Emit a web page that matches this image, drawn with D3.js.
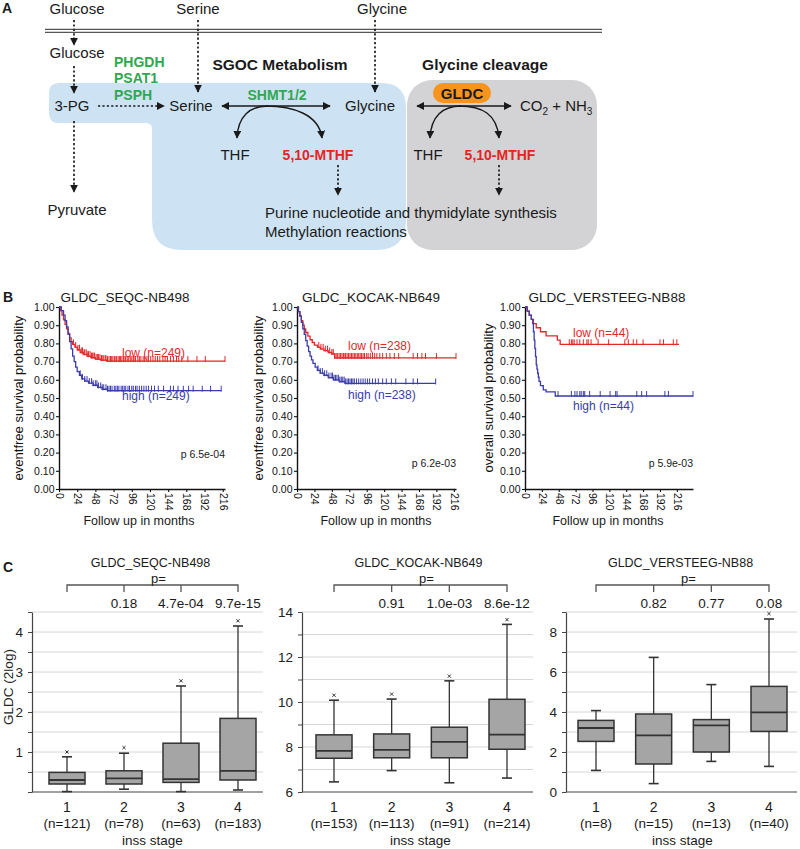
<!DOCTYPE html>
<html><head><meta charset="utf-8">
<script src="https://cdn.jsdelivr.net/npm/d3@7"></script>
<style>body{margin:0;background:#fff}svg{display:block;font-family:"Liberation Sans",Arial,Helvetica,sans-serif}</style>
</head><body><svg id="c" width="800" height="849"></svg>
<script>
// ---------------- DATA ----------------
// Panel B: Kaplan-Meier curves (months, survival probability)
const kmTitles = ["GLDC_SEQC-NB498", "GLDC_KOCAK-NB649", "GLDC_VERSTEEG-NB88"];
const kmYLabels = ["eventfree survival probability", "eventfree survival probability", "overall survival probability"];
const kmPValues = ["p 6.5e-04", "p 6.2e-03", "p 5.9e-03"];
const kmLowLabels = ["low (n=249)", "low (n=238)", "low (n=44)"];
const kmHighLabels = ["high (n=249)", "high (n=238)", "high (n=44)"];
const kmYTicks = [0, 0.1, 0.2, 0.3, 0.4, 0.5, 0.6, 0.7, 0.8, 0.9, 1.0];
const kmXTicks = [0, 24, 48, 72, 96, 120, 144, 168, 192, 216];
const kmXMax = [219, 219, 239];

const seqcLowT = [0, 2, 4, 6, 8, 10, 12, 14, 16, 18, 21, 24, 28, 32, 37, 42, 48, 55, 63, 219];
const seqcLowS = [1.00, 0.98, 0.955, 0.93, 0.905, 0.88, 0.855, 0.83, 0.81, 0.795, 0.78, 0.765, 0.75, 0.74, 0.73, 0.722, 0.714, 0.708, 0.703, 0.703];
const seqcHighT = [0, 3, 6, 8, 10, 12, 14, 16, 18, 20, 22, 24, 27, 30, 34, 39, 45, 51, 57, 64, 214];
const seqcHighS = [1.00, 0.98, 0.955, 0.925, 0.89, 0.85, 0.81, 0.77, 0.73, 0.70, 0.67, 0.645, 0.625, 0.605, 0.593, 0.582, 0.57, 0.558, 0.548, 0.54, 0.54];
const seqcLowCens = [19, 22, 25, 27, 30, 31, 33, 34, 36, 38, 39, 41, 43, 44, 46, 47, 49, 51, 52, 54, 56, 57, 59, 61, 62, 64, 66, 68, 69, 71, 73, 74, 76, 78, 80, 81, 83, 85, 87, 88, 90, 92, 94, 96, 98, 99, 101, 104, 106, 108, 111, 113, 116, 118, 121, 124, 127, 130, 133, 137, 140, 143, 147, 151, 155, 158, 162, 170, 182, 193, 219];
const seqcHighCens = [28, 31, 34, 37, 40, 43, 45, 48, 50, 52, 55, 57, 59, 62, 64, 66, 68, 70, 73, 75, 77, 79, 82, 84, 86, 88, 91, 93, 96, 98, 101, 103, 106, 109, 112, 115, 118, 122, 126, 131, 138, 147, 151, 157, 164, 171, 177, 189, 200, 214];

const kocakLowT = [0, 2, 4, 6, 8, 10, 12, 15, 18, 21, 24, 28, 32, 37, 43, 48, 52, 219];
const kocakLowS = [1.00, 0.975, 0.95, 0.925, 0.90, 0.88, 0.86, 0.84, 0.82, 0.805, 0.79, 0.78, 0.77, 0.76, 0.75, 0.742, 0.72, 0.72];
const kocakHighT = [0, 2, 4, 6, 8, 10, 12, 14, 16, 18, 20, 22, 25, 28, 32, 37, 43, 50, 58, 66, 191];
const kocakHighS = [1.00, 0.975, 0.95, 0.915, 0.88, 0.85, 0.815, 0.785, 0.755, 0.73, 0.71, 0.69, 0.67, 0.652, 0.637, 0.625, 0.612, 0.60, 0.59, 0.58, 0.58];
const kocakLowCens = [30, 33, 36, 39, 42, 45, 48, 50, 52, 54, 56, 58, 60, 62, 64, 66, 67, 69, 71, 73, 75, 77, 79, 81, 83, 85, 87, 89, 91, 93, 96, 98, 101, 104, 107, 110, 114, 118, 123, 128, 134, 140, 160, 166, 172, 177, 192, 219];
const kocakHighCens = [29, 32, 35, 38, 41, 44, 47, 49, 51, 53, 55, 57, 59, 61, 63, 65, 67, 69, 71, 73, 75, 77, 79, 82, 85, 88, 91, 94, 97, 100, 104, 108, 112, 118, 123, 130, 136, 150, 160, 166, 191];

const versteegLowT = [0, 3, 6, 9, 12, 16, 22, 30, 46, 50, 219];
const versteegLowS = [1.00, 0.977, 0.955, 0.932, 0.909, 0.886, 0.864, 0.841, 0.818, 0.795, 0.795];
const versteegHighT = [0, 3, 6, 9, 11, 12, 13, 14, 15, 16, 17, 18, 19, 20, 22, 26, 30, 43, 239];
const versteegHighS = [1.00, 0.977, 0.955, 0.932, 0.909, 0.864, 0.818, 0.773, 0.727, 0.682, 0.659, 0.636, 0.614, 0.591, 0.568, 0.545, 0.534, 0.511, 0.511];
const versteegLowCens = [63, 66, 68, 70, 74, 78, 83, 88, 90, 94, 104, 119, 142, 147, 154, 159, 168, 192, 197, 211, 216];
const versteegHighCens = [47, 66, 71, 74, 78, 80, 83, 85, 92, 107, 121, 129, 131, 159, 166, 173, 199, 204, 239];

// Panel C: box plots of GLDC expression per INSS stage
const bpTitles = ["GLDC_SEQC-NB498", "GLDC_KOCAK-NB649", "GLDC_VERSTEEG-NB88"];
const bpYLabel = "GLDC (2log)";
const bpStages = ["1", "2", "3", "4"];
const seqcN = ["(n=121)", "(n=78)", "(n=63)", "(n=183)"];
const kocakN = ["(n=153)", "(n=113)", "(n=91)", "(n=214)"];
const versteegN = ["(n=8)", "(n=15)", "(n=13)", "(n=40)"];
const seqcP = ["0.18", "4.7e-04", "9.7e-15"];
const kocakP = ["0.91", "1.0e-03", "8.6e-12"];
const versteegP = ["0.82", "0.77", "0.08"];

const seqcLow = [0.01, 0.07, 0.01, 0.05];
const seqcQ1 = [0.20, 0.20, 0.24, 0.30];
const seqcMed = [0.30, 0.34, 0.32, 0.53];
const seqcQ3 = [0.49, 0.53, 1.22, 1.84];
const seqcHigh = [0.88, 0.97, 2.65, 4.15];
const seqcOut = [1.00, 1.11, 2.78, 4.28];

const kocakLow = [6.45, 6.95, 6.41, 6.62];
const kocakQ1 = [7.50, 7.52, 7.52, 7.90];
const kocakMed = [7.83, 7.87, 8.23, 8.55];
const kocakQ3 = [8.54, 8.58, 8.88, 10.12];
const kocakHigh = [10.08, 10.13, 10.94, 13.45];
const kocakOut = [10.30, 10.35, 11.15, 13.66];

const versteegLow = [1.08, 0.42, 1.53, 1.28];
const versteegQ1 = [2.53, 1.40, 2.00, 3.03];
const versteegMed = [3.20, 2.83, 3.33, 3.98];
const versteegQ3 = [3.58, 3.90, 3.62, 5.28];
const versteegHigh = [4.07, 6.73, 5.37, 8.65];
const versteegOut = [null, null, null, 8.92];

const seqcGrid = [0, 0.5, 1, 1.5, 2, 2.5, 3, 3.5, 4, 4.5];
const seqcLabels = [1, 2, 3, 4];
const kocakGrid = [6, 7, 8, 9, 10, 11, 12, 13, 14];
const kocakLabels = [6, 8, 10, 12, 14];
const versteegGrid = [0, 1, 2, 3, 4, 5, 6, 7, 8, 9];
const versteegLabels = [0, 2, 4, 6, 8];

// ---------------- DRAWING ----------------
const svg = d3.select("#c");
const INK = "#1a1a1a";
const RED = "#e8231f";
const GREEN = "#2fa84f";
const KM_RED = "#e0282a";
const KM_BLUE = "#3a3cab";

const defs = svg.append("defs");
defs.append("marker").attr("id", "ah").attr("viewBox", "0 0 10 10")
  .attr("refX", 9).attr("refY", 5).attr("markerWidth", 8).attr("markerHeight", 8)
  .attr("markerUnits", "userSpaceOnUse").attr("orient", "auto-start-reverse")
  .append("path").attr("d", "M0,0L10,5L0,10z").attr("fill", INK);

function txt(g, x, y, s, o = {}) {
  return g.append("text").attr("x", x).attr("y", y).text(s)
    .attr("font-size", o.size || 15).attr("font-weight", o.bold ? "bold" : "normal")
    .attr("fill", o.fill || INK).attr("text-anchor", o.anchor || "middle");
}
function arrow(g, x1, y1, x2, y2, dotted, both) {
  const l = g.append("line").attr("x1", x1).attr("y1", y1).attr("x2", x2).attr("y2", y2)
    .attr("stroke", INK).attr("stroke-width", dotted ? 1.7 : 1.4).attr("marker-end", "url(#ah)");
  if (dotted) l.attr("stroke-dasharray", "2.2,2.2");
  if (both) l.attr("marker-start", "url(#ah)");
}

// ===== Panel A =====
const A = svg.append("g");
txt(A, 2, 13, "A", {bold: true, size: 14, anchor: "start"});
A.append("line").attr("x1", 45).attr("x2", 602).attr("y1", 29.3).attr("y2", 29.3).attr("stroke", "#555").attr("stroke-width", 1.3);
A.append("line").attr("x1", 45).attr("x2", 602).attr("y1", 32.3).attr("y2", 32.3).attr("stroke", "#555").attr("stroke-width", 1.3);
A.append("path").attr("fill", "#cde3f3").attr("d",
  "M49,93 Q49,83 59,83 L381,83 Q406,83 406,108 L406,220 Q406,250 376,250 L182,250 Q152,250 152,220 L152,129 Q152,123 146,123 L59,123 Q49,123 49,113 Z");
A.append("rect").attr("x", 407).attr("y", 80).attr("width", 190).attr("height", 170).attr("rx", 25).attr("fill", "#d3d3d5");

txt(A, 77, 13.5, "Glucose");
txt(A, 198, 13.5, "Serine");
txt(A, 382, 13.5, "Glycine");
arrow(A, 74, 20, 74, 45, true);
arrow(A, 198, 20, 198, 92, true);
arrow(A, 375, 20, 375, 92, true);
txt(A, 77, 58, "Glucose");
arrow(A, 74, 66, 74, 93, true);
txt(A, 72, 111, "3-PG");
arrow(A, 98, 106, 164, 106, true);
arrow(A, 74, 121, 74, 192, true);
txt(A, 77, 215, "Pyruvate");
["PHGDH", "PSAT1", "PSPH"].forEach((s, i) => txt(A, 114, 67 + i * 16.3, s, {bold: true, size: 14, fill: GREEN, anchor: "start"}));
txt(A, 280, 70, "SGOC Metabolism", {bold: true, size: 15.5});
txt(A, 485, 70, "Glycine cleavage", {bold: true, size: 15.5});
txt(A, 191, 111, "Serine");
txt(A, 370, 111, "Glycine");
txt(A, 277, 100, "SHMT1/2", {bold: true, size: 14, fill: GREEN});
arrow(A, 222, 106, 330, 106, false, true);
A.append("path").attr("d", "M268,106 C250,106 238,116 237,138").attr("fill", "none").attr("stroke", INK).attr("stroke-width", 1.4).attr("marker-end", "url(#ah)");
A.append("path").attr("d", "M266,106 C292,106 319,114 322,138").attr("fill", "none").attr("stroke", INK).attr("stroke-width", 1.4).attr("marker-end", "url(#ah)");
txt(A, 235, 160, "THF");
txt(A, 318, 160, "5,10-MTHF", {bold: true, size: 14, fill: RED});
arrow(A, 338, 165, 338, 195, true);
A.append("rect").attr("x", 433).attr("y", 83).attr("width", 58).attr("height", 20).attr("rx", 10).attr("fill", "#f7941d");
txt(A, 462, 99, "GLDC", {bold: true, size: 15});
arrow(A, 417, 106, 511, 106, false, true);
const co = A.append("text").attr("x", 520).attr("y", 111).attr("font-size", 15).attr("fill", INK);
co.append("tspan").text("CO");
co.append("tspan").text("2").attr("font-size", 10).attr("dy", 4);
co.append("tspan").text(" + NH").attr("dy", -4);
co.append("tspan").text("3").attr("font-size", 10).attr("dy", 4);
A.append("path").attr("d", "M461,106 C443,106 431,116 430,138").attr("fill", "none").attr("stroke", INK).attr("stroke-width", 1.4).attr("marker-end", "url(#ah)");
A.append("path").attr("d", "M459,106 C482,106 497,114 499,138").attr("fill", "none").attr("stroke", INK).attr("stroke-width", 1.4).attr("marker-end", "url(#ah)");
txt(A, 428, 160, "THF");
txt(A, 500, 160, "5,10-MTHF", {bold: true, size: 14, fill: RED});
arrow(A, 499, 165, 499, 195, true);
txt(A, 265, 218, "Purine nucleotide and thymidylate synthesis", {anchor: "start"});
txt(A, 265, 237, "Methylation reactions", {anchor: "start"});

// ===== Panel B =====
const B = svg.append("g");
txt(B, 3, 302, "B", {bold: true, size: 14, anchor: "start"});
const kmCfg = [
  {x0: 59, x1: 225, titleX: 125, ylx: 23, lowT: seqcLowT, lowS: seqcLowS, highT: seqcHighT, highS: seqcHighS, lowC: seqcLowCens, highC: seqcHighCens, lowLab: [122, 357], highLab: [122, 400], p: [225, 458], xlab: 139},
  {x0: 297, x1: 456, titleX: 371, ylx: 263, lowT: kocakLowT, lowS: kocakLowS, highT: kocakHighT, highS: kocakHighS, lowC: kocakLowCens, highC: kocakHighCens, lowLab: [348, 350], highLab: [348, 399], p: [456, 467], xlab: 376},
  {x0: 525, x1: 693, titleX: 607, ylx: 493, lowT: versteegLowT, lowS: versteegLowS, highT: versteegHighT, highS: versteegHighS, lowC: versteegLowCens, highC: versteegHighCens, lowLab: [573, 337], highLab: [573, 410], p: [693, 467], xlab: 608}
];
const kmY = d3.scaleLinear().domain([0, 1]).range([489, 307]);
kmCfg.forEach((c, i) => {
  const g = B.append("g");
  const x = d3.scaleLinear().domain([0, kmXMax[i]]).range([c.x0, c.x1]);
  txt(g, c.titleX, 302, kmTitles[i], {size: 13.5});
  const ya = g.append("g").attr("transform", `translate(${c.x0},0)`)
    .call(d3.axisLeft(kmY).tickValues(kmYTicks).tickFormat(d3.format(".2f")).tickSize(3).tickSizeOuter(0).tickPadding(1.5));
  const xa = g.append("g").attr("transform", `translate(0,489)`)
    .call(d3.axisBottom(x).tickValues(kmXTicks).tickSize(3).tickSizeOuter(0));
  [ya, xa].forEach(a => {
    a.select(".domain").attr("stroke", "#111").attr("stroke-width", 1.4);
    a.selectAll(".tick line").attr("stroke", "#111").attr("stroke-width", 1.1);
    a.selectAll("text").attr("font-size", 10.5).attr("fill", "#111").attr("font-family", "'Liberation Sans',Arial,sans-serif");
  });
  xa.selectAll("text").attr("y", 0).attr("x", 4).attr("dy", "0.35em")
    .attr("transform", "rotate(90)").style("text-anchor", "start");
  g.append("text").attr("transform", `translate(${c.ylx},398) rotate(-90)`).attr("text-anchor", "middle")
    .attr("font-size", 13).attr("fill", "#111").text(kmYLabels[i]);
  txt(g, c.xlab, 525, "Follow up in months", {size: 12.5});
  const series = [
    {T: c.lowT, S: c.lowS, C: c.lowC, col: KM_RED},
    {T: c.highT, S: c.highS, C: c.highC, col: KM_BLUE}
  ];
  series.forEach(s => {
    const pts = s.T.map((t, k) => [t, s.S[k]]);
    g.append("path").datum(pts).attr("fill", "none").attr("stroke", s.col).attr("stroke-width", 1.3)
      .attr("d", d3.line().x(d => x(d[0])).y(d => kmY(d[1])).curve(d3.curveStepAfter));
    const survAt = t => { let v = s.S[0]; s.T.forEach((tt, k) => { if (tt <= t) v = s.S[k]; }); return v; };
    g.selectAll(null).data(s.C).join("line")
      .attr("x1", d => x(d)).attr("x2", d => x(d))
      .attr("y1", d => kmY(survAt(d)) - 5).attr("y2", d => kmY(survAt(d)) + 1)
      .attr("stroke", s.col).attr("stroke-width", 1);
  });
  txt(g, c.lowLab[0], c.lowLab[1], kmLowLabels[i], {size: 12, fill: KM_RED, anchor: "start"});
  txt(g, c.highLab[0], c.highLab[1], kmHighLabels[i], {size: 12, fill: KM_BLUE, anchor: "start"});
  txt(g, c.p[0], c.p[1], kmPValues[i], {size: 10.5, anchor: "end"});
});

// ===== Panel C =====
const C = svg.append("g");
txt(C, 3, 572, "C", {bold: true, size: 14, anchor: "start"});
C.append("text").attr("transform", "translate(13,687) rotate(-90)").attr("text-anchor", "middle")
  .attr("font-size", 13.5).attr("fill", "#222").text(bpYLabel);
const bpCfg = [
  {ax: 32, right: 263, r: [67, 238], domain: [0, 4.5], grid: seqcGrid, labels: seqcLabels, n: seqcN, p: seqcP, lo: seqcLow, q1: seqcQ1, md: seqcMed, q3: seqcQ3, hi: seqcHigh, out: seqcOut},
  {ax: 302, right: 533, r: [334, 507], domain: [6, 14], grid: kocakGrid, labels: kocakLabels, n: kocakN, p: kocakP, lo: kocakLow, q1: kocakQ1, md: kocakMed, q3: kocakQ3, hi: kocakHigh, out: kocakOut},
  {ax: 566, right: 797, r: [596, 769], domain: [0, 9], grid: versteegGrid, labels: versteegLabels, n: versteegN, p: versteegP, lo: versteegLow, q1: versteegQ1, md: versteegMed, q3: versteegQ3, hi: versteegHigh, out: versteegOut}
];
const BOXW = 36, CAPW = 10;
bpCfg.forEach((c, i) => {
  const g = C.append("g");
  const y = d3.scaleLinear().domain(c.domain).range([792, 612]);
  const x = d3.scalePoint().domain(bpStages).range(c.r);
  g.selectAll(null).data(c.grid.filter(v => v > c.domain[0])).join("line")
    .attr("x1", c.ax).attr("x2", c.right).attr("y1", d => y(d)).attr("y2", d => y(d))
    .attr("stroke", "#d6d6d6").attr("stroke-width", 1);
  const ya = g.append("g").attr("transform", `translate(${c.ax},0)`)
    .call(d3.axisLeft(y).tickValues(c.grid).tickFormat(d => c.labels.includes(d) ? d : "").tickSize(4).tickSizeOuter(0).tickPadding(5));
  ya.select(".domain").attr("stroke", "#444").attr("stroke-width", 1.2);
  ya.selectAll(".tick line").attr("stroke", "#444");
  ya.selectAll("text").attr("font-size", 13.5).attr("fill", "#222").attr("font-family", "'Liberation Sans',Arial,sans-serif");
  g.append("line").attr("x1", c.ax).attr("x2", c.right).attr("y1", 792).attr("y2", 792).attr("stroke", "#444").attr("stroke-width", 1.2);
  bpStages.forEach((s, k) => {
    const cx = x(s);
    const ln = (x1, y1, x2, y2, w) => g.append("line").attr("x1", x1).attr("y1", y1).attr("x2", x2).attr("y2", y2).attr("stroke", "#333").attr("stroke-width", w || 1.3);
    ln(cx, y(c.q3[k]), cx, y(c.hi[k]));
    ln(cx, y(c.q1[k]), cx, y(c.lo[k]));
    ln(cx - CAPW / 2, y(c.hi[k]), cx + CAPW / 2, y(c.hi[k]), 1.6);
    ln(cx - CAPW / 2, y(c.lo[k]), cx + CAPW / 2, y(c.lo[k]), 1.6);
    g.append("rect").attr("x", cx - BOXW / 2).attr("y", y(c.q3[k])).attr("width", BOXW)
      .attr("height", y(c.q1[k]) - y(c.q3[k])).attr("fill", "#a5a5a5").attr("stroke", "#333").attr("stroke-width", 1.5);
    ln(cx - BOXW / 2, y(c.md[k]), cx + BOXW / 2, y(c.md[k]), 1.8);
    if (c.out[k] != null) {
      const oy = y(c.out[k]);
      g.append("path").attr("d", `M${cx - 1.6},${oy - 1.6}L${cx + 1.6},${oy + 1.6}M${cx - 1.6},${oy + 1.6}L${cx + 1.6},${oy - 1.6}`)
        .attr("stroke", "#333").attr("stroke-width", 1);
    }
    txt(g, cx, 812, s, {size: 14});
    txt(g, cx, 828, c.n[k], {size: 13.5});
  });
  const mid = (x("1") + x("4")) / 2;
  txt(g, mid, 845, "inss stage", {size: 13.5});
  g.append("path").attr("d", `M${x("1")},592V585H${x("4")}V592M${x("2")},585V592M${x("3")},585V592`)
    .attr("fill", "none").attr("stroke", "#555").attr("stroke-width", 1.3);
  bpStages.slice(1).forEach((s, k) => txt(g, x(s), 608, c.p[k], {size: 13.5}));
  txt(g, mid - 2, 567, bpTitles[i], {size: 12.5});
  txt(g, mid + 6, 583, "p=", {size: 13});
});
</script></body></html>
